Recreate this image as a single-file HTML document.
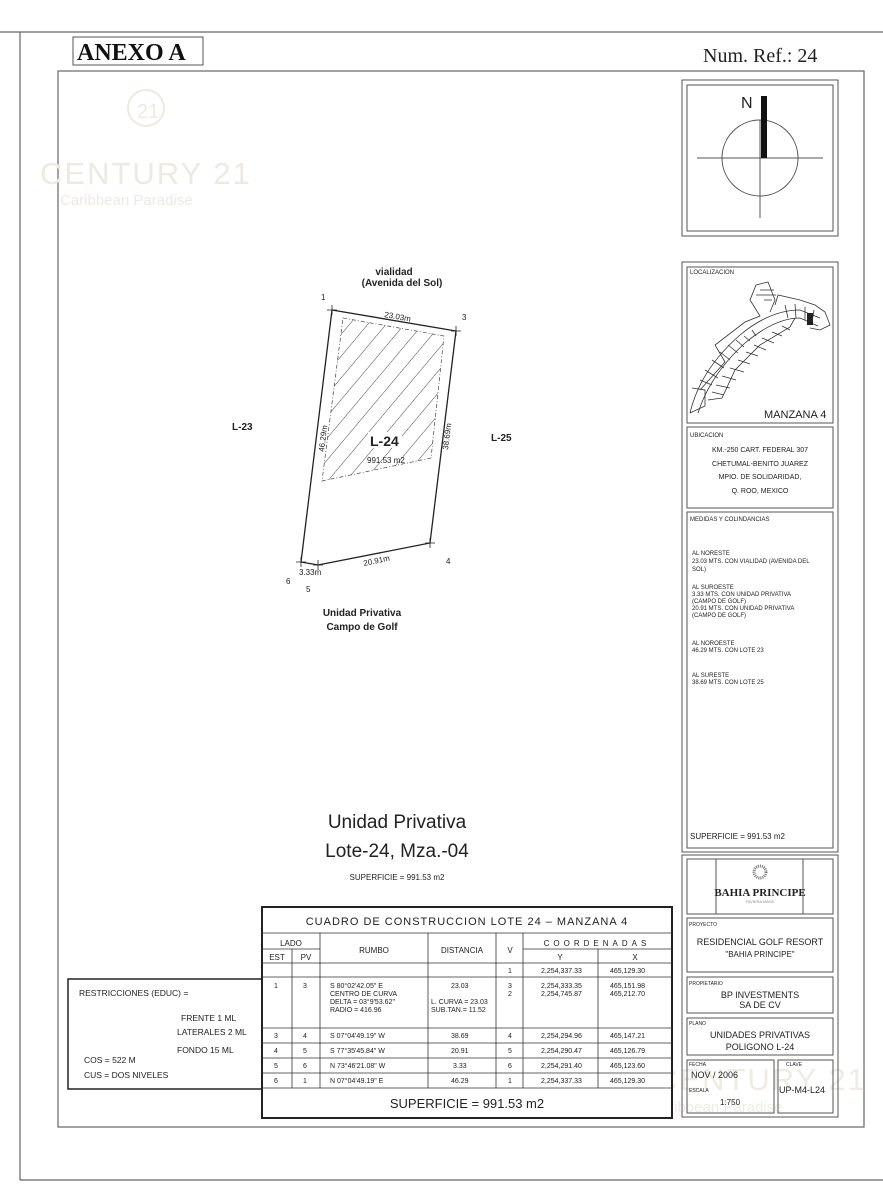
<!DOCTYPE html>
<html><head><meta charset="utf-8"><style>
html,body{margin:0;padding:0;background:#fff;}
svg{display:block;}
text{font-family:"Liberation Sans",sans-serif;fill:#222;}
.s{font-family:"Liberation Serif",serif;}
</style></head><body>
<svg width="883" height="1200" viewBox="0 0 883 1200" xmlns="http://www.w3.org/2000/svg">
<g fill="none" stroke="#666" stroke-width="1.2">
<line x1="0" y1="32" x2="883" y2="32"/>
<line x1="20" y1="1180" x2="883" y2="1180"/>
<polyline points="20,32 20,1180"/>
<rect x="58" y="71" width="806" height="1056"/>
</g>
<!-- watermarks -->
<text x="40" y="184" style="font-size:31px;fill:#eeeae0;letter-spacing:2px">CENTURY 21</text>
<text x="60" y="205" style="font-size:15px;fill:#eeeae0">Caribbean Paradise</text>
<text x="137" y="118" style="font-size:20px;fill:#eeeae0">21</text>
<circle cx="146" cy="108" r="18" fill="none" stroke="#eeeae0" stroke-width="2"/>
<text x="655" y="1090" style="font-size:31px;fill:#f0ece3;letter-spacing:2px">CENTURY 21</text>
<text x="650" y="1112" style="font-size:15px;fill:#f0ece3">Caribbean Paradise</text>
<!-- header -->
<rect x="73" y="37" width="130" height="28" fill="none" stroke="#555" stroke-width="1"/>
<text x="77" y="60" class="s" style="font-size:24px;font-weight:bold;fill:#111">ANEXO A</text>
<text x="703" y="62" class="s" style="font-size:20px;fill:#222">Num. Ref.: 24</text>
<!-- compass -->
<g fill="none" stroke="#555" stroke-width="1">
<rect x="682" y="80" width="156" height="156"/>
<rect x="687" y="85" width="146" height="146"/>
<circle cx="760" cy="158" r="38"/>
<line x1="697" y1="158" x2="823" y2="158"/>
<line x1="760" y1="120" x2="760" y2="218"/>
</g>
<rect x="761" y="96" width="6" height="62" fill="#111"/>
<text x="741" y="108" style="font-size:16px">N</text>
<!-- right panel middle -->
<g fill="none" stroke="#555" stroke-width="1">
<rect x="682" y="262" width="156" height="590"/>
<rect x="687" y="267" width="146" height="156"/>
<rect x="687" y="427" width="146" height="81"/>
<rect x="687" y="512" width="146" height="336"/>
</g>
<text x="690" y="274" style="font-size:6px">LOCALIZACION</text>
<g fill="none" stroke="#333" stroke-width="0.8">
<path d="M690,413 Q700,370 740,335 Q770,310 800,310 L820,318"/>
<path d="M698,413 Q710,375 745,343 Q775,318 800,318 L818,326"/>
<path d="M690,413 L705,406 L705,390 L692,388"/>
<path d="M700,390 L725,362 L715,345 L745,322 L760,316 L750,300 L756,285 L768,282 L775,300 L770,312"/>
<path d="M708,400 L722,398 L735,370 L760,345 L790,327 L795,318"/>
<path d="M775,305 L778,295 L800,300 L815,305 L825,312 L830,325 L820,330 L810,328"/>
<path d="M700,380 L712,385 M705,370 L718,378 M712,360 L724,368 M720,352 L730,360 M728,345 L738,353 M736,340 L744,347 M744,336 L750,341 M752,330 L756,336"/>
<path d="M712,392 L724,395 M716,385 L730,388 M722,376 L736,380 M730,368 L744,372 M738,360 L750,364 M746,352 L758,356 M754,345 L766,350 M762,338 L774,343 M772,332 L782,336 M782,326 L790,330"/>
<path d="M785,305 L788,318 M795,304 L796,318 M805,307 L805,320 M814,310 L812,322"/>
<path d="M764,300 L772,300 M756,295 L776,295 M760,290 L774,290"/>
</g>
<rect x="807" y="313" width="6" height="12" fill="#222"/>
<text x="764" y="418" style="font-size:11px">MANZANA 4</text>
<text x="690" y="437" style="font-size:6px">UBICACION</text>
<g style="font-size:7px" text-anchor="middle">
<text x="760" y="452">KM.-250 CART. FEDERAL 307</text>
<text x="760" y="466">CHETUMAL-BENITO JUAREZ</text>
<text x="760" y="479">MPIO. DE SOLIDARIDAD,</text>
<text x="760" y="493">Q. ROO, MEXICO</text>
</g>
<text x="690" y="521" style="font-size:6px">MEDIDAS Y COLINDANCIAS</text>
<g style="font-size:6px">
<text x="692" y="555">AL NORESTE</text>
<text x="692" y="563">23.03 MTS. CON VIALIDAD (AVENIDA DEL</text>
<text x="692" y="571">SOL)</text>
<text x="692" y="589">AL SUROESTE</text>
<text x="692" y="596">3.33 MTS. CON UNIDAD PRIVATIVA</text>
<text x="692" y="603">(CAMPO DE GOLF)</text>
<text x="692" y="610">20.91 MTS. CON UNIDAD PRIVATIVA</text>
<text x="692" y="617">(CAMPO DE GOLF)</text>
<text x="692" y="645">AL NOROESTE</text>
<text x="692" y="652">46.29 MTS. CON LOTE 23</text>
<text x="692" y="677">AL SURESTE</text>
<text x="692" y="684">38.69 MTS. CON LOTE 25</text>
</g>
<text x="690" y="839" style="font-size:8px">SUPERFICIE = 991.53 m2</text>
<!-- right panel bottom -->
<g fill="none" stroke="#555" stroke-width="1">
<rect x="682" y="855" width="156" height="262"/>
<rect x="687" y="859" width="146" height="55"/>
<line x1="716" y1="859" x2="716" y2="914"/><line x1="803" y1="859" x2="803" y2="914"/>
<rect x="687" y="918" width="146" height="54"/>
<rect x="687" y="977" width="146" height="36"/>
<rect x="687" y="1018" width="146" height="37"/>
<rect x="687" y="1060" width="87" height="53"/>
<rect x="778" y="1060" width="55" height="53"/>
</g>
<circle cx="760" cy="872" r="6" fill="none" stroke="#777" stroke-dasharray="1,1" stroke-width="3"/>
<text x="760" y="896" class="s" text-anchor="middle" style="font-size:11px;font-weight:bold">BAHIA PRINCIPE</text>
<text x="760" y="903" text-anchor="middle" style="font-size:4px;fill:#888">RIVIERA MAYA</text>
<text x="689" y="926" style="font-size:5px">PROYECTO</text>
<text x="760" y="945" text-anchor="middle" style="font-size:9px">RESIDENCIAL  GOLF  RESORT</text>
<text x="760" y="957" text-anchor="middle" style="font-size:8px">"BAHIA PRINCIPE"</text>
<text x="689" y="985" style="font-size:5px">PROPIETARIO</text>
<text x="760" y="998" text-anchor="middle" style="font-size:9px">BP INVESTMENTS</text>
<text x="760" y="1008" text-anchor="middle" style="font-size:9px">SA DE CV</text>
<text x="689" y="1025" style="font-size:5px">PLANO</text>
<text x="760" y="1038" text-anchor="middle" style="font-size:9px">UNIDADES PRIVATIVAS</text>
<text x="760" y="1050" text-anchor="middle" style="font-size:9px">POLIGONO L-24</text>
<text x="689" y="1066" style="font-size:5px">FECHA</text>
<text x="691" y="1078" style="font-size:9px">NOV / 2006</text>
<text x="689" y="1092" style="font-size:5px">ESCALA</text>
<text x="720" y="1105" style="font-size:8px">1:750</text>
<text x="786" y="1066" style="font-size:5px">CLAVE</text>
<text x="779" y="1093" style="font-size:9px">UP-M4-L24</text>
<!-- lot drawing -->
<defs><pattern id="h" width="14" height="14" patternUnits="userSpaceOnUse" patternTransform="rotate(40)"><line x1="0" y1="0" x2="0" y2="14" stroke="#333" stroke-width="0.9"/></pattern></defs>
<polygon points="343,318 444,336 431,458 322,481" fill="url(#h)" stroke="#444" stroke-width="0.7" stroke-dasharray="4,2,1,2"/>
<polyline points="332,310 456,331 430,543 318,565 301,562 332,310" fill="none" stroke="#222" stroke-width="1.3"/>
<g stroke="#222" stroke-width="0.8">
<path d="M327,310h10M332,305v10M451,331h10M456,326v10M425,543h10M430,538v10M313,565h10M318,560v10M296,562h10M301,557v10"/>
</g>
<g style="font-size:10px;font-weight:bold" text-anchor="middle">
<text x="394" y="275">vialidad</text>
<text x="402" y="286">(Avenida del Sol)</text>
<text x="362" y="616">Unidad Privativa</text>
<text x="362" y="630">Campo de Golf</text>
</g>
<text x="232" y="430" style="font-size:10px;font-weight:bold">L-23</text>
<text x="491" y="441" style="font-size:10px;font-weight:bold">L-25</text>
<rect x="368" y="432" width="34" height="16" fill="#fff"/>
<text x="370" y="446" style="font-size:14px;font-weight:bold">L-24</text>
<text x="367" y="463" style="font-size:8px">991.53  m2</text>
<g style="font-size:8px">
<text x="321" y="300">1</text><text x="462" y="320">3</text><text x="446" y="564">4</text>
<text x="306" y="592">5</text><text x="286" y="584">6</text>
<text x="384" y="317" transform="rotate(10 384 317)">23.03m</text>
<text x="364" y="566" transform="rotate(-12 364 566)">20.91m</text>
<text x="299" y="575">3.33m</text>
<text x="324" y="452" transform="rotate(-83 324 452)">46.29m</text>
<text x="448" y="450" transform="rotate(-83 448 450)" >38.69m</text>
</g>
<text x="397" y="828" text-anchor="middle" style="font-size:19px">Unidad Privativa</text>
<text x="397" y="857" text-anchor="middle" style="font-size:19px">Lote-24, Mza.-04</text>
<text x="397" y="880" text-anchor="middle" style="font-size:8px">SUPERFICIE = 991.53 m2</text>
<!-- restrictions -->
<rect x="68" y="979" width="194" height="110" fill="none" stroke="#222" stroke-width="1.5"/>
<g style="font-size:8.5px">
<text x="79" y="996">RESTRICCIONES (EDUC) =</text>
<text x="181" y="1021">FRENTE   1 ML</text>
<text x="177" y="1035">LATERALES  2 ML</text>
<text x="177" y="1053">FONDO   15 ML</text>
<text x="84" y="1063">COS =  522 M</text>
<text x="84" y="1078">CUS = DOS NIVELES</text>
</g>
<!-- table -->
<rect x="262" y="907" width="410" height="211" fill="#fff" stroke="#222" stroke-width="2"/>
<g stroke="#333" stroke-width="0.8" fill="none">
<line x1="262" y1="933" x2="672" y2="933"/>
<line x1="262" y1="949" x2="320" y2="949"/>
<line x1="523" y1="949" x2="672" y2="949"/>
<line x1="262" y1="963" x2="672" y2="963"/>
<line x1="262" y1="977" x2="672" y2="977"/>
<line x1="262" y1="1028" x2="672" y2="1028"/>
<line x1="262" y1="1043" x2="672" y2="1043"/>
<line x1="262" y1="1058" x2="672" y2="1058"/>
<line x1="262" y1="1073" x2="672" y2="1073"/>
<line x1="262" y1="1088" x2="672" y2="1088"/>
<line x1="292" y1="949" x2="292" y2="1088"/>
<line x1="320" y1="933" x2="320" y2="1088"/>
<line x1="428" y1="933" x2="428" y2="1088"/>
<line x1="496" y1="933" x2="496" y2="1088"/>
<line x1="523" y1="933" x2="523" y2="1088"/>
<line x1="598" y1="949" x2="598" y2="1088"/>
</g>
<g style="font-size:11px" text-anchor="middle">
<text x="467" y="925" style="letter-spacing:1px">CUADRO DE CONSTRUCCION LOTE 24 – MANZANA 4</text>
<text x="467" y="1108" style="font-size:13px">SUPERFICIE = 991.53 m2</text>
</g>
<g style="font-size:8px" text-anchor="middle">
<text x="291" y="946">LADO</text>
<text x="277" y="960">EST</text><text x="306" y="960">PV</text>
<text x="374" y="953">RUMBO</text>
<text x="462" y="953">DISTANCIA</text>
<text x="510" y="953">V</text>
<text x="597" y="946" style="letter-spacing:4px">COORDENADAS</text>
<text x="560" y="960">Y</text><text x="635" y="960">X</text>
</g>
<g style="font-size:7px">
<text x="508" y="973">1</text><text x="541" y="973">2,254,337.33</text><text x="610" y="973">465,129.30</text>
<text x="274" y="988">1</text><text x="303" y="988">3</text>
<text x="330" y="988">S 80°02'42.05" E</text><text x="451" y="988">23.03</text>
<text x="330" y="996">CENTRO DE CURVA</text>
<text x="330" y="1004">DELTA = 03°9'53.62"</text><text x="431" y="1004">L. CURVA = 23.03</text>
<text x="330" y="1012">RADIO = 416.96</text><text x="431" y="1012">SUB.TAN.= 11.52</text>
<text x="508" y="988">3</text><text x="541" y="988">2,254,333.35</text><text x="610" y="988">465,151.98</text>
<text x="508" y="996">2</text><text x="541" y="996">2,254,745.87</text><text x="610" y="996">465,212.70</text>
<text x="274" y="1038">3</text><text x="303" y="1038">4</text><text x="330" y="1038">S 07°04'49.19" W</text><text x="451" y="1038">38.69</text><text x="508" y="1038">4</text><text x="541" y="1038">2,254,294.96</text><text x="610" y="1038">465,147.21</text>
<text x="274" y="1053">4</text><text x="303" y="1053">5</text><text x="330" y="1053">S 77°35'45.84" W</text><text x="451" y="1053">20.91</text><text x="508" y="1053">5</text><text x="541" y="1053">2,254,290.47</text><text x="610" y="1053">465,126.79</text>
<text x="274" y="1068">5</text><text x="303" y="1068">6</text><text x="330" y="1068">N 73°46'21.08" W</text><text x="453" y="1068">3.33</text><text x="508" y="1068">6</text><text x="541" y="1068">2,254,291.40</text><text x="610" y="1068">465,123.60</text>
<text x="274" y="1083">6</text><text x="303" y="1083">1</text><text x="330" y="1083">N 07°04'49.19" E</text><text x="451" y="1083">46.29</text><text x="508" y="1083">1</text><text x="541" y="1083">2,254,337.33</text><text x="610" y="1083">465,129.30</text>
</g>
</svg>
</body></html>
